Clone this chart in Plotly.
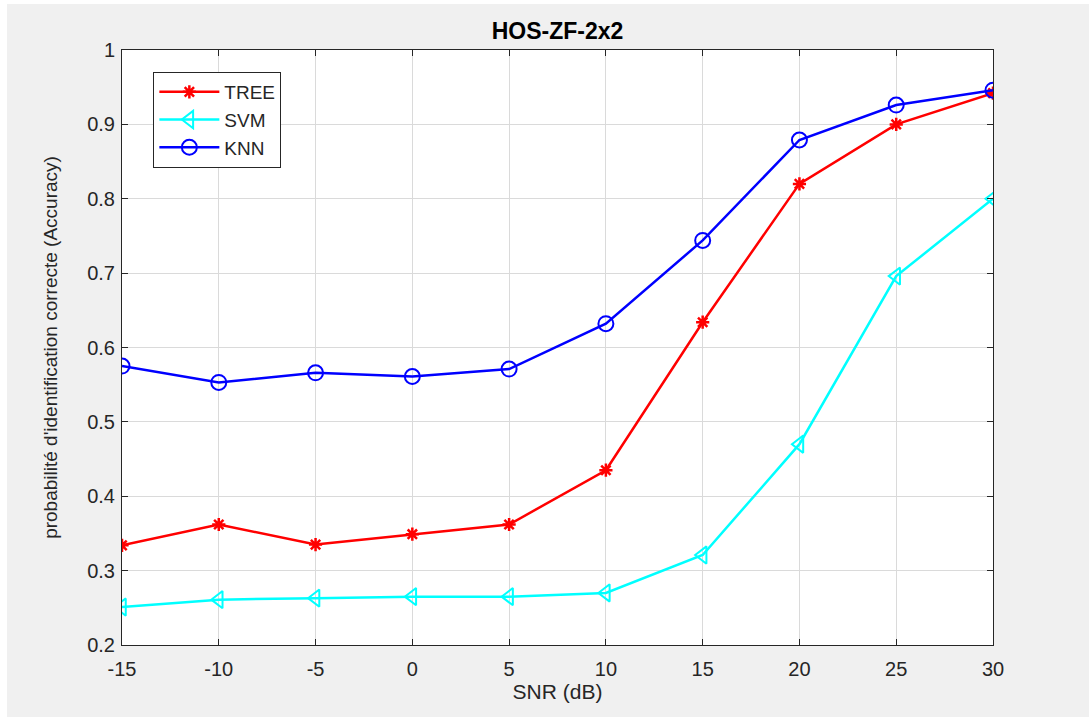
import plotly.graph_objects as go

snr = [-15, -10, -5, 0, 5, 10, 15, 20, 25, 30]
tree = [0.334, 0.362, 0.335, 0.349, 0.362, 0.435, 0.634, 0.820, 0.900, 0.942]
svm = [0.251, 0.261, 0.263, 0.265, 0.265, 0.270, 0.321, 0.470, 0.696, 0.800]
knn = [0.575, 0.553, 0.566, 0.561, 0.571, 0.632, 0.744, 0.879, 0.926, 0.946]
x_ticks = [-15, -10, -5, 0, 5, 10, 15, 20, 25, 30]
x_tick_text = ["-15", "-10", "-5", "0", "5", "10", "15", "20", "25", "30"]
y_ticks = [0.2, 0.3, 0.4, 0.5, 0.6, 0.7, 0.8, 0.9, 1]
y_tick_text = ["0.2", "0.3", "0.4", "0.5", "0.6", "0.7", "0.8", "0.9", "1"]

font = "Liberation Sans, Arial, Helvetica, sans-serif"
axcol = "#262626"

fig = go.Figure()
fig.add_trace(go.Scatter(x=snr, y=tree, name="TREE", mode="lines+markers",
                         line=dict(color="#ff0000", width=2.5),
                         marker=dict(symbol="asterisk-open", size=11,
                                     line=dict(color="#ff0000", width=2.5))))
fig.add_trace(go.Scatter(x=snr, y=svm, name="SVM", mode="lines+markers",
                         line=dict(color="#00ffff", width=2.5),
                         marker=dict(symbol="triangle-left-open", size=15,
                                     line=dict(color="#00ffff", width=2))))
fig.add_trace(go.Scatter(x=snr, y=knn, name="KNN", mode="lines+markers",
                         line=dict(color="#0000ff", width=2.5),
                         marker=dict(symbol="circle-open", size=15,
                                     line=dict(color="#0000ff", width=2))))

fig.update_layout(
    width=1089, height=717,
    margin=dict(l=122, r=96, t=50, b=72),
    paper_bgcolor="#f0f0f0",
    plot_bgcolor="white",
    font=dict(family=font, color=axcol, size=19),
    title=dict(text="<b>HOS-ZF-2x2</b>", x=0.5, xref="paper", xanchor="center",
               y=1, yref="paper", yanchor="bottom", pad=dict(b=11),
               font=dict(size=23, color="#000000", family=font)),
    showlegend=True,
    legend=dict(x=0.036, y=0.963, xanchor="left", yanchor="top",
                bgcolor="white", bordercolor=axcol, borderwidth=1,
                font=dict(size=19, color=axcol, family=font),
                itemwidth=60, tracegroupgap=0),
    xaxis=dict(range=[-15, 30], tickmode="array", tickvals=x_ticks, ticktext=x_tick_text,
               showgrid=True, gridcolor="#dadada", gridwidth=1,
               zeroline=False, showline=True, linecolor=axcol, linewidth=1,
               mirror="ticks", ticks="inside", ticklen=6, tickcolor=axcol,
               ticklabelstandoff=6,
               tickfont=dict(size=20, color=axcol),
               title=dict(text="SNR (dB)", font=dict(size=21, color=axcol), standoff=4)),
    yaxis=dict(range=[0.2, 1], tickmode="array", tickvals=y_ticks, ticktext=y_tick_text,
               showgrid=True, gridcolor="#dadada", gridwidth=1,
               zeroline=False, showline=True, linecolor=axcol, linewidth=1,
               mirror="ticks", ticks="inside", ticklen=6, tickcolor=axcol,
               ticklabelstandoff=2,
               tickfont=dict(size=20, color=axcol),
               title=dict(text="probabilité d'identification correcte (Accuracy)",
                          font=dict(size=19, color=axcol), standoff=24)),
)

# white screenshot borders at top and left
fig.add_shape(type="rect", xref="paper", yref="paper",
              x0=-0.2, x1=1.2, y0=(645 - 4) / 595, y1=1.2,
              fillcolor="white", line=dict(width=0), layer="above")
fig.add_shape(type="rect", xref="paper", yref="paper",
              x0=-0.2, x1=(7 - 122) / 871, y0=-0.2, y1=1.2,
              fillcolor="white", line=dict(width=0), layer="above")

fig.write_html("out.html")
